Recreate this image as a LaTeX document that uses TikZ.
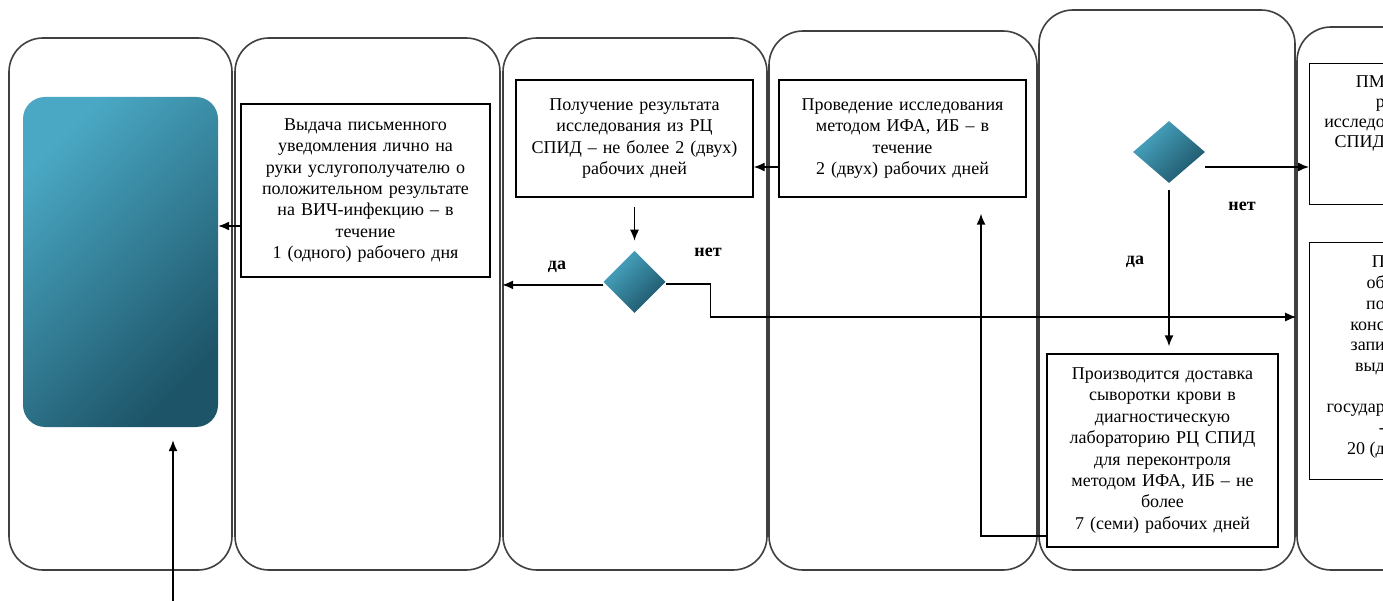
\documentclass[tikz,border=0pt]{standalone}
\usepackage{fontspec}
\setmainfont{Liberation Serif}
\usepackage{tikz}
\usetikzlibrary{positioning, shapes.geometric, arrows.meta}

\definecolor{tealtop}{HTML}{4AA8C4}
\definecolor{tealbot}{HTML}{1D5468}

\begin{document}
\begin{tikzpicture}[x=1pt, y=-1pt, font=\fontsize{18}{21.4}\selectfont]

	\tikzstyle{lane} = [draw=black!75, line width=1.6pt, rounded corners=34pt, inner sep=0pt]
	\tikzstyle{stepbox} = [draw, line width=1.4pt, align=center, inner sep=3pt]
	\tikzstyle{choice} = [diamond, inner sep=0pt, top color=tealtop, bottom color=tealbot, shading angle=45]
	\tikzstyle{arrow} = [line width=1.4pt,->,>={Latex[length=11pt,width=9pt]}]
	\tikzstyle{answer} = [font=\fontsize{18}{21.4}\selectfont\bfseries]

	\useasboundingbox (0,0) rectangle (1383,601);
	\fill[white] (0,0) rectangle (1383,601);
	\clip (0,0) rectangle (1383,601);

	\node[lane, minimum width=223pt, minimum height=532pt] (lane1) at (120.5,304) {};
	\node[lane, minimum width=265pt, minimum height=532pt] (lane2) at (367.5,304) {};
	\node[lane, minimum width=264pt, minimum height=532pt] (lane3) at (635,304) {};
	\node[lane, minimum width=268pt, minimum height=539pt] (lane4) at (903,300.5) {};
	\node[lane, minimum width=256pt, minimum height=560pt] (lane5) at (1167,290) {};
	\node[lane, minimum width=263pt, minimum height=543pt] (lane6) at (1428.5,298.5) {};

	\node[rounded corners=22pt, minimum width=195pt, minimum height=330pt,
	top color=tealtop, bottom color=tealbot, shading angle=45] (start) at (120.5,262) {};

	\node[stepbox, minimum width=249pt, minimum height=173pt, text width=240pt] (notice) at (365.5,190.5)
	{Выдача письменного\\уведомления лично на\\руки услугополучателю о\\положительном результате\\на ВИЧ-инфекцию – в\\течение\\1 (одного) рабочего дня};
	\node[stepbox, minimum width=237pt, minimum height=117pt, text width=228pt] (result) at (634.5,138.5)
	{Получение результата\\исследования из РЦ\\СПИД – не более 2 (двух)\\рабочих дней};
	\node[stepbox, minimum width=247pt, minimum height=117pt, text width=238pt] (test) at (902.5,138.5)
	{Проведение исследования\\методом ИФА, ИБ – в\\течение\\2 (двух) рабочих дней};
	\node[stepbox, minimum width=231pt, minimum height=193pt, text width=222pt] (delivery) at (1162.5,450.5)
	{Производится доставка\\сыворотки крови в\\диагностическую\\лабораторию РЦ СПИД\\для переконтроля\\методом ИФА, ИБ – не\\более\\7 (семи) рабочих дней};

	\node[stepbox, anchor=north west, minimum width=100pt, minimum height=141pt] (pmsp) at (1309,63) {};
	\node[anchor=north east, align=right, inner sep=0pt, font=\fontsize{18}{20}\selectfont] (pmsptext) at (1385,76)
	{ПМ\\р\\исследо\\СПИД};
	\node[stepbox, anchor=north west, minimum width=100pt, minimum height=237pt] (consult) at (1309,242) {};
	\node[anchor=north east, align=right, inner sep=0pt, font=\fontsize{18}{20.7}\selectfont] (consulttext) at (1385,256)
	{П\\об\\по\\конс\\запи\\выд\\~\\государ\\-\\20 (д};

	\node[choice, minimum width=62pt, minimum height=62pt, below=53pt of result] (dia1) {};
	\node[choice, minimum width=72pt, minimum height=62pt] (dia2) at (1169,152) {};

	\node[answer] (yes1) at (557,267) {да};
	\node[answer] (no1) at (708,252) {нет};
	\node[answer] (no2) at (1242,206) {нет};
	\node[answer] (yes2) at (1135,262) {да};

	\coordinate (entry) at (173,610);

\draw [arrow] ([yshift=-35.5pt]notice.west) -- ([yshift=-35.5pt]notice.west -| start.east);
\draw [arrow] ([yshift=-28.5pt]test.west) -- ([yshift=-28.5pt]test.west -| result.east);
\draw [arrow, shorten <=9pt, shorten >=10pt] (result.south -| dia1.north) -- (dia1.north);
\draw [arrow] ([yshift=-3pt]dia1.west) -- ([yshift=-3pt]dia1.west -| lane3.west);
\draw [arrow] ([yshift=-2pt]dia1.east) -- ++(45,0) |- ([yshift=-18.5pt]lane6.west);
\draw [arrow] ([yshift=-15pt]dia2.east) -- ([yshift=-15pt]dia2.east -| pmsp.west);
\draw [arrow, shorten <=7pt, shorten >=7pt] (dia2.south) -- (dia2.south |- delivery.north);
\draw [arrow, shorten >=16pt] ([yshift=-85.5pt]delivery.west) -| ([xshift=78.5pt]test.south);
\draw [arrow, shorten >=13pt] (entry) -- (entry |- start.south);

\end{tikzpicture}
\end{document}
